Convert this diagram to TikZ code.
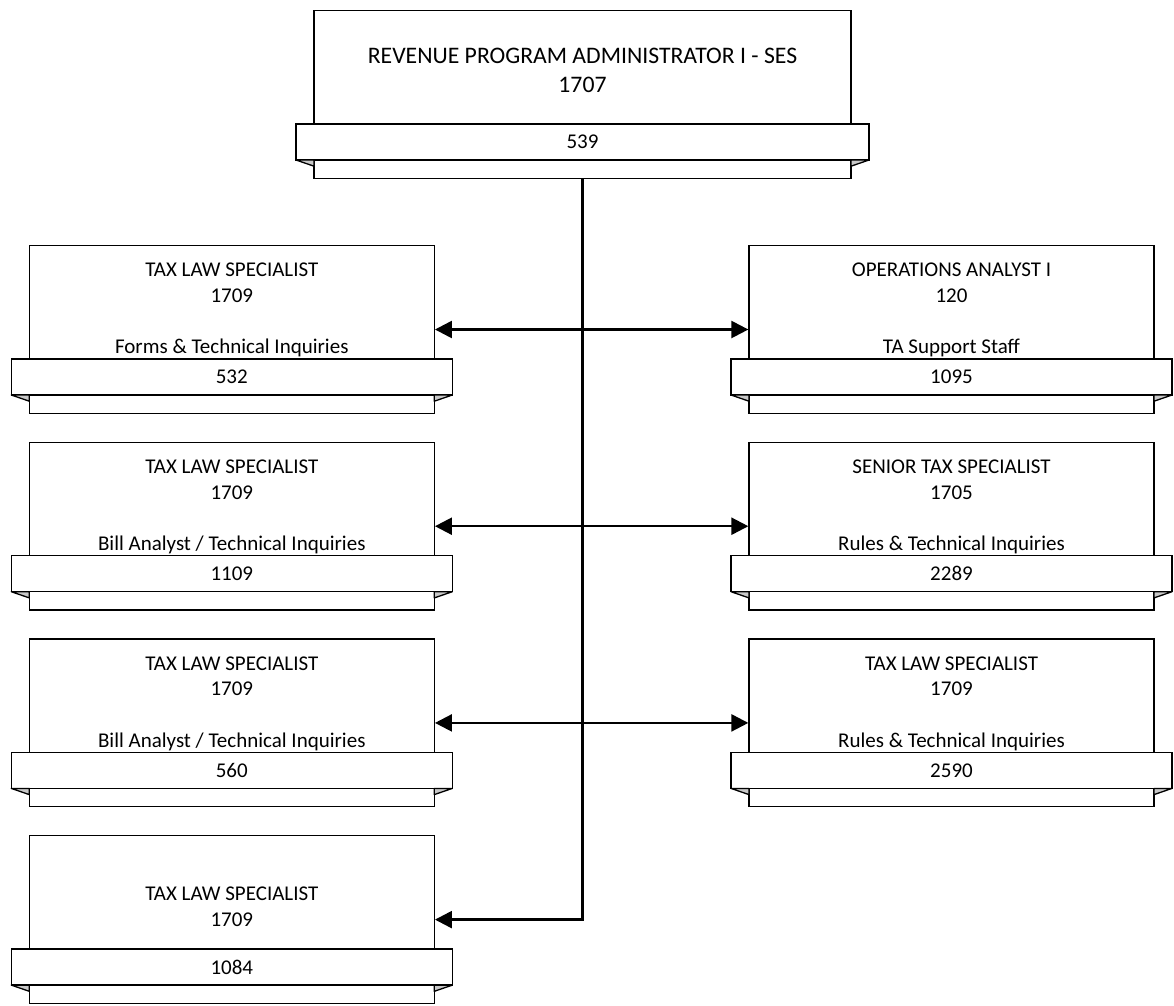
\documentclass[tikz,border=0pt]{standalone}
\usepackage{fontspec}
\setmainfont{Carlito}
\usetikzlibrary{arrows.meta}
\definecolor{foldgray}{RGB}{200,200,200}

\tikzset{
  posframe/.style={draw, line width=1.3pt, fill=white, minimum height=167.6pt, inner sep=0pt},
  ribbon/.style={draw, line width=1.3pt, fill=white, minimum height=36pt, inner sep=0pt, font=\fontsize{21}{25.6}\selectfont},
  fold/.style={draw, line width=1.3pt, line join=round, fill=foldgray},
  postext/.style={align=center, inner sep=0pt, font=\fontsize{21}{25.6}\selectfont},
  link/.style={line width=2.4pt, -{Triangle[length=17pt,width=17pt]}},
  twoway/.style={line width=2.4pt, {Triangle[length=17pt,width=17pt]}-{Triangle[length=17pt,width=17pt]}}
}

% box with a number ribbon: [title offset]{name}{x}{top}{width}{title}{number}
\newcommand{\posbox}[7][64.5]{%
  \node[posframe, minimum width=#5] (#2) at (#3,#4+83.8) {};
  \node[ribbon, minimum width=#5+36] (#2-no) at (#3,#4+131.3) {#7};
  \filldraw[fold] ({#3-#5/2-18},{#4+149.3}) -- ({#3-#5/2},{#4+155.5}) -- ({#3-#5/2},{#4+149.3}) -- cycle;
  \filldraw[fold] ({#3+#5/2+18},{#4+149.3}) -- ({#3+#5/2},{#4+155.5}) -- ({#3+#5/2},{#4+149.3}) -- cycle;
  \node[postext] (#2-title) at (#3,#4+#1) {#6};
}

\begin{document}
\begin{tikzpicture}[x=1pt, y=-1pt]
\useasboundingbox (0,0) rectangle (1174,1005);

% head of the unit, larger title
\begin{scope}[postext/.append style={font=\fontsize{23.7}{29.3}\selectfont}]
\posbox[59.6]{rpa}{582.5}{10.7}{537}{REVENUE PROGRAM ADMINISTRATOR I - SES\\1707}{539}
\end{scope}

% left column
\posbox{forms}{231.8}{245.7}{405}{TAX LAW SPECIALIST\\1709\\\strut\\Forms \& Technical Inquiries}{532}
\posbox{billa}{231.8}{442.4}{405}{TAX LAW SPECIALIST\\1709\\\strut\\Bill Analyst / Technical Inquiries}{1109}
\posbox{billb}{231.8}{639.1}{405}{TAX LAW SPECIALIST\\1709\\\strut\\Bill Analyst / Technical Inquiries}{560}
\posbox[70.7]{tls}{231.8}{835.8}{405}{TAX LAW SPECIALIST\\1709}{1084}

% right column
\posbox{opan}{951.5}{245.7}{405}{OPERATIONS ANALYST I\\120\\\strut\\TA Support Staff}{1095}
\posbox{sts}{951.5}{442.4}{405}{SENIOR TAX SPECIALIST\\1705\\\strut\\Rules \& Technical Inquiries}{2289}
\posbox{rules}{951.5}{639.1}{405}{TAX LAW SPECIALIST\\1709\\\strut\\Rules \& Technical Inquiries}{2590}

% reporting lines
\draw[link] (rpa.south) |- (tls.east);
\draw[twoway] (forms) -- (opan);
\draw[twoway] (billa) -- (sts);
\draw[twoway] (billb) -- (rules);
\end{tikzpicture}
\end{document}
